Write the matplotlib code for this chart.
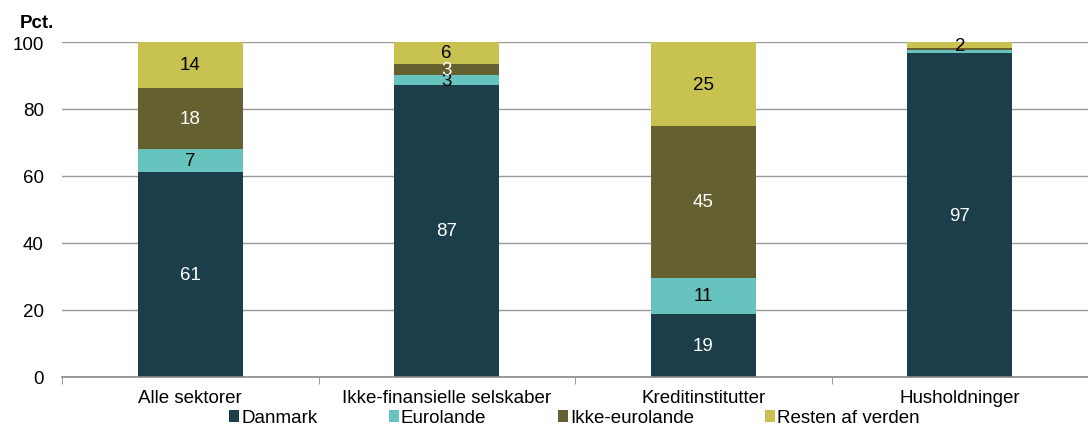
import numpy as np
import matplotlib.pyplot as plt

plt.rcParams['font.family'] = ['Liberation Sans', 'DejaVu Sans']

# data
categories = ['Alle sektorer', 'Ikke-finansielle selskaber', 'Kreditinstitutter', 'Husholdninger']
series = ['Danmark', 'Eurolande', 'Ikke-eurolande', 'Resten af verden']
danmark = [61.2, 87.2, 18.8, 96.6]
eurolande = [6.9, 2.9, 10.8, 1.0]
ikke_euro = [18.2, 3.4, 45.3, 0.5]
resten = [13.7, 6.5, 25.1, 1.9]

colors = ['#1c3d4a', '#66c3bd', '#646030', '#c8c350']
label_colors = ['white', 'black', 'white', 'black']
FS = 13.5

fig = plt.figure(figsize=(10.88, 4.27), dpi=100)
ax = fig.add_axes([62 / 1088, 1 - 378 / 427, 1 - 62 / 1088, (378 - 43) / 427])

x = np.arange(len(categories))
bottom = np.zeros(len(categories))
for vals, name, col, lcol in zip([danmark, eurolande, ikke_euro, resten], series, colors, label_colors):
    vals = np.array(vals)
    ax.bar(x, vals, 0.41, bottom=bottom, color=col, label=name, zorder=3)
    for xi, v, b in zip(x, vals, bottom):
        if v >= 1.5:
            ax.text(xi, b + v / 2, f'{v:.0f}', ha='center', va='center',
                    color=lcol, fontsize=FS, zorder=4)
    bottom += vals

ax.set_xlim(-0.5, 3.5)
ax.set_ylim(0, 100)
ax.set_yticks(range(0, 101, 20))
ax.set_xticks(x)
ax.set_xticklabels(categories, fontsize=FS)
ax.set_xticks(np.arange(-0.5, 3.6, 1), minor=True)
ax.tick_params(axis='x', which='major', length=0, pad=9)
ax.tick_params(axis='x', which='minor', length=5, color='#888888')
ax.tick_params(axis='y', length=0, pad=13, labelsize=FS)
ax.grid(axis='y', color='#999999', linewidth=1, zorder=0)
for s in ['top', 'right', 'left']:
    ax.spines[s].set_visible(False)
ax.spines['bottom'].set_color('#888888')
ax.spines['bottom'].set_linewidth(1.2)
ax.spines['bottom'].set_zorder(5)

fig.text(20 / 1088, 1 - 23 / 427, 'Pct.', fontsize=FS, fontweight='bold', va='center')

fig.legend(loc='center', bbox_to_anchor=(0.528, 1 - 419 / 427), ncol=4, frameon=False,
           fontsize=FS, handlelength=0.55, handleheight=0.55, handletextpad=0.1,
           columnspacing=3.8, borderpad=0, borderaxespad=0)

fig.savefig('out.png', dpi=100)
